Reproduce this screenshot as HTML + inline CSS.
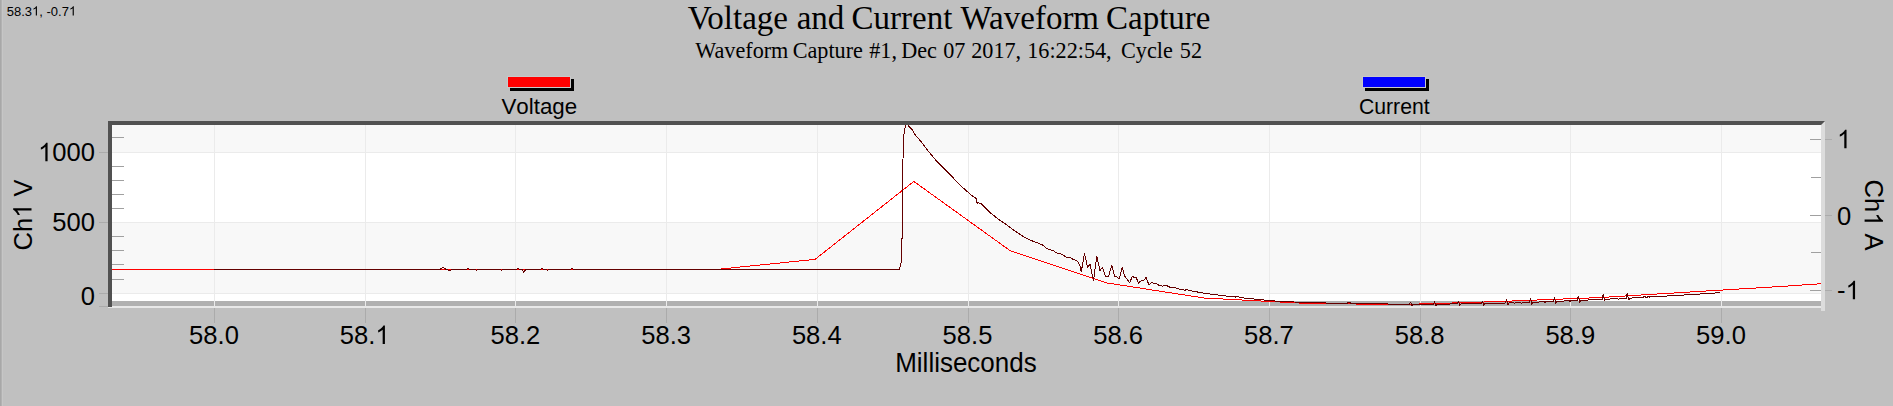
<!DOCTYPE html>
<html><head><meta charset="utf-8"><style>
html,body{margin:0;padding:0;background:#c0c0c0;width:1893px;height:406px;overflow:hidden}
svg{display:block}
</style></head><body>
<svg width="1893" height="406" viewBox="0 0 1893 406">
<rect x="0" y="0" width="1893" height="406" fill="#c0c0c0"/>
<rect x="0" y="0" width="1" height="406" fill="#a8a8a8"/><rect x="1" y="0" width="1" height="406" fill="#b2b2b2"/><rect x="2" y="0" width="1" height="406" fill="#c6c6c6"/>
<rect x="112" y="125" width="1709" height="181" fill="#ffffff"/>
<rect x="112" y="125" width="1709" height="27" fill="#f8f8f8"/>
<rect x="112" y="222" width="1709" height="71" fill="#f8f8f8"/>
<rect x="112" y="301" width="1709" height="5" fill="#b0b0b0"/>
<line x1="112" y1="152.5" x2="1821" y2="152.5" stroke="#ebebeb" stroke-width="1"/>
<line x1="112" y1="222.5" x2="1821" y2="222.5" stroke="#ebebeb" stroke-width="1"/>
<line x1="112" y1="293.5" x2="1821" y2="293.5" stroke="#ebebeb" stroke-width="1"/>
<line x1="214.5" y1="125" x2="214.5" y2="306" stroke="#ebebeb" stroke-width="1"/>
<line x1="214.5" y1="308" x2="214.5" y2="323" stroke="#ababab" stroke-width="1"/>
<line x1="365.5" y1="125" x2="365.5" y2="306" stroke="#ebebeb" stroke-width="1"/>
<line x1="365.5" y1="308" x2="365.5" y2="323" stroke="#ababab" stroke-width="1"/>
<line x1="515.5" y1="125" x2="515.5" y2="306" stroke="#ebebeb" stroke-width="1"/>
<line x1="515.5" y1="308" x2="515.5" y2="323" stroke="#ababab" stroke-width="1"/>
<line x1="666.5" y1="125" x2="666.5" y2="306" stroke="#ebebeb" stroke-width="1"/>
<line x1="666.5" y1="308" x2="666.5" y2="323" stroke="#ababab" stroke-width="1"/>
<line x1="817.5" y1="125" x2="817.5" y2="306" stroke="#ebebeb" stroke-width="1"/>
<line x1="817.5" y1="308" x2="817.5" y2="323" stroke="#ababab" stroke-width="1"/>
<line x1="968.5" y1="125" x2="968.5" y2="306" stroke="#ebebeb" stroke-width="1"/>
<line x1="968.5" y1="308" x2="968.5" y2="323" stroke="#ababab" stroke-width="1"/>
<line x1="1118.5" y1="125" x2="1118.5" y2="306" stroke="#ebebeb" stroke-width="1"/>
<line x1="1118.5" y1="308" x2="1118.5" y2="323" stroke="#ababab" stroke-width="1"/>
<line x1="1269.5" y1="125" x2="1269.5" y2="306" stroke="#ebebeb" stroke-width="1"/>
<line x1="1269.5" y1="308" x2="1269.5" y2="323" stroke="#ababab" stroke-width="1"/>
<line x1="1420.5" y1="125" x2="1420.5" y2="306" stroke="#ebebeb" stroke-width="1"/>
<line x1="1420.5" y1="308" x2="1420.5" y2="323" stroke="#ababab" stroke-width="1"/>
<line x1="1570.5" y1="125" x2="1570.5" y2="306" stroke="#ebebeb" stroke-width="1"/>
<line x1="1570.5" y1="308" x2="1570.5" y2="323" stroke="#ababab" stroke-width="1"/>
<line x1="1721.5" y1="125" x2="1721.5" y2="306" stroke="#ebebeb" stroke-width="1"/>
<line x1="1721.5" y1="308" x2="1721.5" y2="323" stroke="#ababab" stroke-width="1"/>
<line x1="112" y1="137.5" x2="124" y2="137.5" stroke="#a0a0a0" stroke-width="1"/>
<line x1="112" y1="166.5" x2="124" y2="166.5" stroke="#a0a0a0" stroke-width="1"/>
<line x1="112" y1="180.5" x2="124" y2="180.5" stroke="#a0a0a0" stroke-width="1"/>
<line x1="112" y1="194.5" x2="124" y2="194.5" stroke="#a0a0a0" stroke-width="1"/>
<line x1="112" y1="208.5" x2="124" y2="208.5" stroke="#a0a0a0" stroke-width="1"/>
<line x1="112" y1="236.5" x2="124" y2="236.5" stroke="#a0a0a0" stroke-width="1"/>
<line x1="112" y1="250.5" x2="124" y2="250.5" stroke="#a0a0a0" stroke-width="1"/>
<line x1="112" y1="264.5" x2="124" y2="264.5" stroke="#a0a0a0" stroke-width="1"/>
<line x1="112" y1="279.5" x2="124" y2="279.5" stroke="#a0a0a0" stroke-width="1"/>
<line x1="99" y1="152.5" x2="108" y2="152.5" stroke="#ababab" stroke-width="1"/>
<line x1="99" y1="222.5" x2="108" y2="222.5" stroke="#ababab" stroke-width="1"/>
<line x1="99" y1="293.5" x2="108" y2="293.5" stroke="#ababab" stroke-width="1"/>
<line x1="99" y1="306.5" x2="108" y2="306.5" stroke="#ababab" stroke-width="1"/>
<line x1="1810" y1="139.5" x2="1821" y2="139.5" stroke="#a0a0a0" stroke-width="1"/>
<line x1="1825" y1="139.5" x2="1832" y2="139.5" stroke="#ababab" stroke-width="1"/>
<line x1="1810" y1="215.5" x2="1821" y2="215.5" stroke="#a0a0a0" stroke-width="1"/>
<line x1="1825" y1="215.5" x2="1832" y2="215.5" stroke="#ababab" stroke-width="1"/>
<line x1="1810" y1="290.5" x2="1821" y2="290.5" stroke="#a0a0a0" stroke-width="1"/>
<line x1="1825" y1="290.5" x2="1832" y2="290.5" stroke="#ababab" stroke-width="1"/>
<line x1="1811" y1="177.5" x2="1821" y2="177.5" stroke="#a0a0a0" stroke-width="1"/>
<line x1="1811" y1="252.5" x2="1821" y2="252.5" stroke="#a0a0a0" stroke-width="1"/>
<defs><clipPath id="pc"><rect x="112" y="125" width="1709" height="181"/></clipPath></defs>
<g clip-path="url(#pc)" fill="none" stroke-linejoin="round">
<polyline points="112.0,269.4 717.0,269.4 815.0,259.4 913.8,181.4 1010.6,251.0 1107.3,283.0 1204.0,298.0 1300.6,303.1 1397.3,304.7 1494.0,301.7 1599.0,297.6 1690.0,292.0 1723.0,290.0 1756.0,288.0 1788.0,286.0 1817.0,284.0 1821.0,283.7" stroke="#ff0000" stroke-width="1" shape-rendering="crispEdges"/>
<polyline points="214.0,269.4 440.0,269.4 443.3,267.4 446.0,269.4 449.5,270.6 452.0,269.4 466.0,269.4 468.0,268.6 470.0,269.4 474.0,269.4 476.5,270.2 479.0,269.4 499.0,269.4 501.4,270.3 504.0,269.4 516.0,269.4 518.0,268.6 520.0,269.4 522.0,269.4 523.6,272.4 526.0,269.4 540.0,269.4 542.0,268.6 544.0,269.4 546.0,269.4 547.5,270.3 549.0,269.4 570.0,269.4 572.0,268.6 574.0,269.4 899.5,269.4 900.5,264.0 901.5,262.0 901.5,240.0 902.5,237.0 902.5,170.0 903.3,152.0 903.9,134.3 904.9,128.9 905.8,125.0 906.6,121.0 907.8,125.0 908.6,126.0 912.3,129.7 915.6,135.4 921.3,141.9 929.4,152.5 937.5,162.2 944.0,168.7 952.2,176.8 960.3,185.5 966.9,191.2 972.9,196.4 976.4,198.6 977.2,204.1 978.0,202.4 981.6,204.1 989.3,211.9 997.9,218.8 1006.6,224.8 1013.4,230.0 1023.8,236.9 1030.7,240.3 1037.6,242.9 1042.6,245.0 1047.0,248.7 1053.0,250.5 1056.8,253.0 1060.5,253.6 1066.6,257.3 1070.3,257.3 1072.8,259.2 1076.5,260.4 1078.3,262.3 1080.2,266.6 1081.2,272.1 1084.5,253.4 1087.6,267.2 1090.0,264.1 1093.5,280.7 1096.8,256.3 1100.0,270.9 1102.4,267.2 1105.4,276.4 1108.5,276.4 1111.7,265.4 1114.7,276.2 1116.9,277.0 1119.1,279.2 1122.3,267.3 1124.4,275.9 1125.9,277.8 1129.6,282.6 1132.5,276.3 1134.4,277.8 1136.2,277.2 1138.4,283.3 1140.3,281.1 1143.6,280.3 1146.2,277.4 1148.8,284.8 1151.0,282.9 1152.5,282.6 1154.7,283.7 1156.5,283.3 1158.8,285.4 1161.3,285.5 1162.8,286.3 1164.3,285.2 1166.5,285.5 1170.2,287.4 1175.4,287.6 1178.3,288.8 1181.3,289.4 1185.0,290.3 1186.8,289.4 1190.0,290.7 1194.0,291.3 1199.0,292.3 1205.0,293.4 1212.0,294.3 1221.0,295.3 1227.0,296.2 1235.0,296.6 1235.6,297.3 1236.5,296.5 1239.0,297.0 1245.0,298.2 1256.0,299.2 1266.0,300.2 1277.0,301.2 1284.5,301.5 1304.0,302.5 1347.0,303.5 1347.5,302.5 1350.5,302.5 1351.0,303.5 1351.5,303.5 1409.4,304.3 1410.6,302.2 1411.9,305.6 1413.2,304.4 1420.0,304.5 1433.4,304.3 1434.6,301.4 1435.9,306.6 1437.2,304.2 1457.2,303.9 1458.4,301.4 1459.7,305.6 1461.0,303.9 1481.2,303.6 1482.4,301.1 1483.7,305.6 1485.0,303.5 1485.0,303.5 1505.3,303.0 1506.5,299.1 1507.8,304.8 1509.1,302.9 1513.6,302.8 1514.4,303.6 1515.2,302.7 1520.6,302.6 1521.4,303.6 1522.2,302.5 1524.0,302.5 1529.4,302.3 1530.6,298.1 1531.9,304.6 1533.2,302.2 1544.3,301.8 1545.1,302.6 1545.9,301.7 1553.0,301.5 1553.3,301.5 1554.5,297.2 1555.8,303.5 1557.1,301.3 1569.2,300.8 1570.0,301.6 1570.8,300.8 1577.2,300.5 1578.4,296.1 1579.7,302.7 1581.0,300.3 1600.5,299.5 1602.1,299.4 1603.3,294.2 1604.6,300.5 1605.9,299.2 1617.7,298.7 1618.5,299.5 1619.3,298.6 1621.5,298.5 1626.1,298.3 1627.3,293.2 1628.6,300.0 1629.9,298.1 1641.0,297.5 1643.0,297.5 1643.5,296.5 1645.0,296.5 1645.6,297.8 1647.0,297.8 1647.5,296.5 1649.0,296.5 1649.6,297.6 1650.2,296.6 1658.5,296.5 1676.0,295.5 1692.5,294.5 1708.5,293.5 1720.0,292.6" stroke="#640000" stroke-width="1" shape-rendering="crispEdges"/>
</g>
<rect x="112" y="306" width="1709" height="2" fill="#e8e8e8"/>
<rect x="108" y="307" width="4" height="1" fill="#e8e8e8"/>
<polygon points="1821,125 1825,121 1825,311 1821,311" fill="#dcdcdc"/>
<polygon points="108,121 1825,121 1821,125 112,125 112,307 108,307" fill="#515151"/>
<rect x="510" y="79" width="64" height="12" fill="#000"/>
<rect x="507" y="76" width="64" height="12" fill="#c8c8c8"/>
<rect x="508" y="77" width="62" height="10" fill="#ff0000"/>
<rect x="1365" y="79" width="64" height="12" fill="#000"/>
<rect x="1362" y="76" width="64" height="12" fill="#c8c8c8"/>
<rect x="1363" y="77" width="62" height="10" fill="#0000ff"/>
<g font-family="Liberation Sans, sans-serif" fill="#000" style="font-kerning:none">
<g transform="translate(6.80,15.60) scale(1.0,1.041)"><text x="0" y="0" font-size="13" xml:space="preserve">58.3 , -0.7 </text></g><path transform="translate(32.10,15.60) scale(0.00635,-0.00635)" d="M763,0 L583,0 L583,1147 Q518,1085 412.5,1023 Q307,961 223,930 L223,1104 Q374,1175 487,1276 Q600,1377 647,1472 L763,1472 Z"/><path transform="translate(68.96,15.60) scale(0.00635,-0.00635)" d="M763,0 L583,0 L583,1147 Q518,1085 412.5,1023 Q307,961 223,930 L223,1104 Q374,1175 487,1276 Q600,1377 647,1472 L763,1472 Z"/>
<g transform="translate(501.43,114.00) scale(1.015,1.041)"><text x="0" y="0" font-size="22" xml:space="preserve">Voltage</text></g>
<g transform="translate(1358.90,114.00) scale(0.965,1.041)"><text x="0" y="0" font-size="22" xml:space="preserve">Current</text></g>
<g transform="translate(38.05,161.20) scale(1.0,1.041)"><text x="0" y="0" font-size="25.6" xml:space="preserve"> 000</text></g><path transform="translate(38.05,161.20) scale(0.01250,-0.01250)" d="M763,0 L583,0 L583,1147 Q518,1085 412.5,1023 Q307,961 223,930 L223,1104 Q374,1175 487,1276 Q600,1377 647,1472 L763,1472 Z"/>
<g transform="translate(52.29,231.20) scale(1.0,1.041)"><text x="0" y="0" font-size="25.6" xml:space="preserve">500</text></g>
<g transform="translate(80.76,305.20) scale(1.0,1.041)"><text x="0" y="0" font-size="25.6" xml:space="preserve">0</text></g>
<g transform="translate(1837.00,148.20) scale(1.0,1.041)"><text x="0" y="0" font-size="25.6" xml:space="preserve"> </text></g><path transform="translate(1837.00,148.20) scale(0.01250,-0.01250)" d="M763,0 L583,0 L583,1147 Q518,1085 412.5,1023 Q307,961 223,930 L223,1104 Q374,1175 487,1276 Q600,1377 647,1472 L763,1472 Z"/>
<g transform="translate(1837.00,224.60) scale(1.0,1.041)"><text x="0" y="0" font-size="25.6" xml:space="preserve">0</text></g>
<g transform="translate(1837.00,299.20) scale(1.0,1.041)"><text x="0" y="0" font-size="25.6" xml:space="preserve">- </text></g><path transform="translate(1845.53,299.20) scale(0.01250,-0.01250)" d="M763,0 L583,0 L583,1147 Q518,1085 412.5,1023 Q307,961 223,930 L223,1104 Q374,1175 487,1276 Q600,1377 647,1472 L763,1472 Z"/>
<g transform="translate(189.09,344.00) scale(1.0,1.041)"><text x="0" y="0" font-size="25.6" xml:space="preserve">58.0</text></g>
<g transform="translate(339.79,344.00) scale(1.0,1.041)"><text x="0" y="0" font-size="25.6" xml:space="preserve">58. </text></g><path transform="translate(375.38,344.00) scale(0.01250,-0.01250)" d="M763,0 L583,0 L583,1147 Q518,1085 412.5,1023 Q307,961 223,930 L223,1104 Q374,1175 487,1276 Q600,1377 647,1472 L763,1472 Z"/>
<g transform="translate(490.49,344.00) scale(1.0,1.041)"><text x="0" y="0" font-size="25.6" xml:space="preserve">58.2</text></g>
<g transform="translate(641.19,344.00) scale(1.0,1.041)"><text x="0" y="0" font-size="25.6" xml:space="preserve">58.3</text></g>
<g transform="translate(791.89,344.00) scale(1.0,1.041)"><text x="0" y="0" font-size="25.6" xml:space="preserve">58.4</text></g>
<g transform="translate(942.59,344.00) scale(1.0,1.041)"><text x="0" y="0" font-size="25.6" xml:space="preserve">58.5</text></g>
<g transform="translate(1093.29,344.00) scale(1.0,1.041)"><text x="0" y="0" font-size="25.6" xml:space="preserve">58.6</text></g>
<g transform="translate(1243.99,344.00) scale(1.0,1.041)"><text x="0" y="0" font-size="25.6" xml:space="preserve">58.7</text></g>
<g transform="translate(1394.69,344.00) scale(1.0,1.041)"><text x="0" y="0" font-size="25.6" xml:space="preserve">58.8</text></g>
<g transform="translate(1545.39,344.00) scale(1.0,1.041)"><text x="0" y="0" font-size="25.6" xml:space="preserve">58.9</text></g>
<g transform="translate(1696.09,344.00) scale(1.0,1.041)"><text x="0" y="0" font-size="25.6" xml:space="preserve">59.0</text></g>
<g transform="translate(895.20,372.40) scale(1.0,1.041)"><text x="0" y="0" font-size="26" xml:space="preserve">Milliseconds</text></g>
<g transform="translate(31.5,215) rotate(-90)"><g transform="translate(-35.44,0.00) scale(1.0,1.041)"><text x="0" y="0" font-size="25.5" xml:space="preserve">Ch  V</text></g><path transform="translate(-2.84,0.00) scale(0.01245,-0.01245)" d="M763,0 L583,0 L583,1147 Q518,1085 412.5,1023 Q307,961 223,930 L223,1104 Q374,1175 487,1276 Q600,1377 647,1472 L763,1472 Z"/></g>
<g transform="translate(1864.6,215) rotate(90)"><g transform="translate(-35.44,0.00) scale(1.0,1.041)"><text x="0" y="0" font-size="25.5" xml:space="preserve">Ch  A</text></g><path transform="translate(-2.84,0.00) scale(0.01245,-0.01245)" d="M763,0 L583,0 L583,1147 Q518,1085 412.5,1023 Q307,961 223,930 L223,1104 Q374,1175 487,1276 Q600,1377 647,1472 L763,1472 Z"/></g>
</g>
<text x="687.8" y="28.8" font-family="Liberation Serif, serif" font-size="33" fill="#000">Voltage</text>
<text x="796.7" y="28.8" font-family="Liberation Serif, serif" font-size="33" fill="#000">and</text>
<text x="851.6" y="28.8" font-family="Liberation Serif, serif" font-size="33" fill="#000">Current</text>
<text x="960.6" y="28.8" font-family="Liberation Serif, serif" font-size="33" fill="#000">Waveform</text>
<text x="1106.0" y="28.8" font-family="Liberation Serif, serif" font-size="33" fill="#000">Capture</text>
<text x="695.3" y="57.6" font-family="Liberation Serif, serif" font-size="22.2" fill="#000">Waveform</text>
<text x="792.7" y="57.6" font-family="Liberation Serif, serif" font-size="22.2" fill="#000">Capture</text>
<text x="869.2" y="57.6" font-family="Liberation Serif, serif" font-size="22.2" fill="#000">#1,</text>
<text x="901.2" y="57.6" font-family="Liberation Serif, serif" font-size="22.2" fill="#000">Dec</text>
<text x="943.2" y="57.6" font-family="Liberation Serif, serif" font-size="22.2" fill="#000">07</text>
<text x="971.2" y="57.6" font-family="Liberation Serif, serif" font-size="22.2" fill="#000">2017,</text>
<text x="1027.2" y="57.6" font-family="Liberation Serif, serif" font-size="22.2" fill="#000">16:22:54,</text>
<text x="1121.0" y="57.6" font-family="Liberation Serif, serif" font-size="22.2" fill="#000">Cycle</text>
<text x="1179.8" y="57.6" font-family="Liberation Serif, serif" font-size="22.2" fill="#000">52</text>
</svg>
</body></html>
